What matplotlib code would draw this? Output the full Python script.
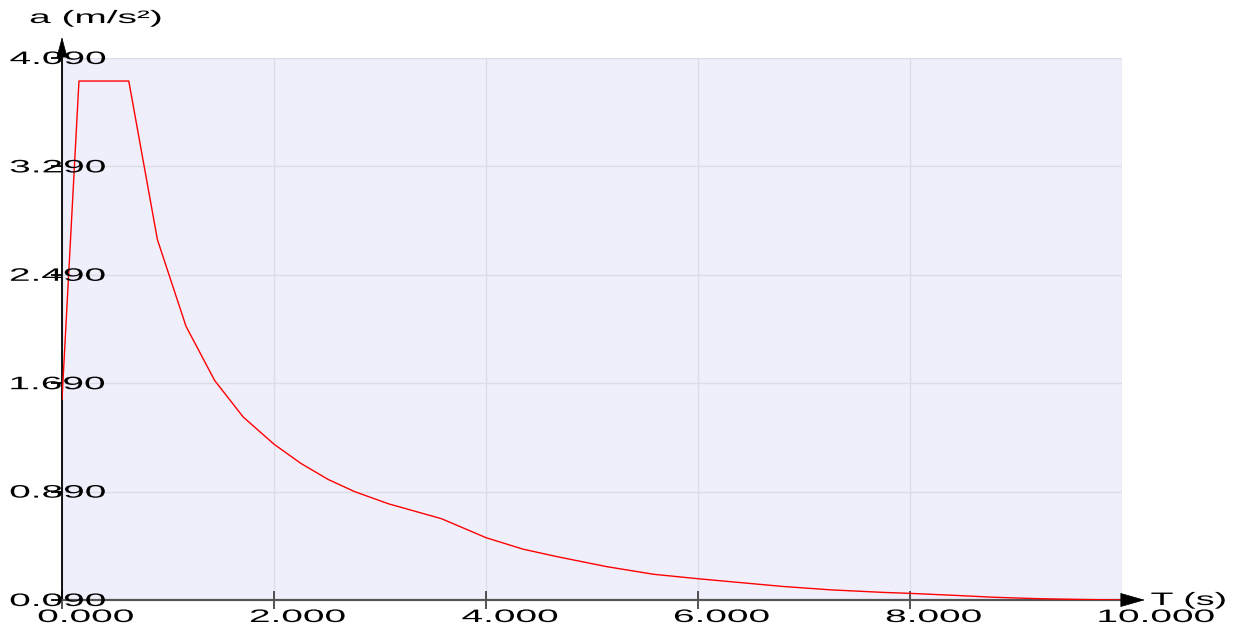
import matplotlib
matplotlib.use("Agg")
import matplotlib.pyplot as plt
from matplotlib.transforms import Affine2D, ScaledTranslation, blended_transform_factory
from matplotlib.patheffects import AbstractPathEffect

# ---- data ----
period_s = [0.0, 0.16, 0.39, 0.63, 0.90, 1.17, 1.44, 1.71, 2.00, 2.25, 2.51, 2.76,
            3.08, 3.58, 4.00, 4.35, 4.67, 5.14, 5.58, 6.00, 6.80, 7.25, 7.75, 8.00,
            8.40, 8.80, 9.20, 9.60, 10.0]
accel = [1.57, 3.92, 3.92, 3.92, 2.75, 2.11, 1.71, 1.44, 1.24, 1.10, 0.98, 0.89,
         0.80, 0.69, 0.55, 0.465, 0.41, 0.336, 0.28, 0.247, 0.19, 0.165, 0.146, 0.139,
         0.125, 0.11, 0.10, 0.094, 0.09]
x_ticks = [0, 2, 4, 6, 8, 10]
x_tick_labels = ["0.000", "2.000", "4.000", "6.000", "8.000", "10.000"]
y_ticks = [0.09, 0.89, 1.69, 2.49, 3.29, 4.09]
y_tick_labels = ["0.090", "0.890", "1.690", "2.490", "3.290", "4.090"]
x_label = "T (s)"
y_label = "a (m/s²)"


class Stretch(AbstractPathEffect):
    """Stretch text horizontally about its left edge (text stays a Text artist)."""
    def __init__(self, sx):
        super().__init__()
        self.sx = sx

    def draw_path(self, renderer, gc, tpath, affine, rgbFace=None):
        x0 = tpath.get_extents(affine).x0
        t = affine + Affine2D().translate(-x0, 0).scale(self.sx, 1).translate(x0, 0)
        renderer.draw_path(gc, tpath, t, rgbFace)


W, H = 1242, 632
fig = plt.figure(figsize=(W / 100, H / 100), dpi=100)
ax = fig.add_axes([62 / W, 32 / H, 1060 / W, 542 / H])
ax.set_facecolor("#efeffb")

ax.plot(period_s, accel, color="#ff0000", lw=1.0, zorder=3)

ax.set_xlim(0, 10)
ax.set_ylim(0.09, 4.09)
ax.set_xticks(x_ticks)
ax.set_yticks(y_ticks)
ax.grid(True, color="#dcdce4", lw=1.0)
ax.set_axisbelow(True)

for s in ("top", "right"):
    ax.spines[s].set_visible(False)
ax.spines["left"].set_color("black")
ax.spines["left"].set_linewidth(1.3)
ax.spines["bottom"].set_color("#555555")
ax.spines["bottom"].set_linewidth(1.6)

ax.tick_params(axis="x", direction="inout", length=12.5, width=1.3, color="#444444",
               labelbottom=False)
ax.tick_params(axis="y", direction="out", length=8, width=1.3, color="black",
               labelleft=False)
ax.xaxis.get_major_ticks()[-1].tick1line.set_visible(False)

px = 1 / 100.0
font = dict(family=["Liberation Sans", "DejaVu Sans"], fontsize=13, color="black")
SX = 2.15

xt = blended_transform_factory(ax.transData, ax.transAxes)
for v, lab in zip(x_ticks, x_tick_labels):
    ax.text(v, 0, lab, transform=xt + ScaledTranslation(-24 * px, -22 * px, fig.dpi_scale_trans),
            ha="left", va="baseline", clip_on=False, path_effects=[Stretch(SX)], **font)

yt = blended_transform_factory(ax.transAxes, ax.transData)
for v, lab in zip(y_ticks, y_tick_labels):
    ax.text(0, v, lab, transform=yt + ScaledTranslation(-52 * px, -6 * px, fig.dpi_scale_trans),
            ha="left", va="baseline", clip_on=False, path_effects=[Stretch(SX)], **font)

ax.text(0, 1, y_label, transform=ax.transAxes + ScaledTranslation(-32 * px, 35 * px, fig.dpi_scale_trans),
        ha="left", va="baseline", clip_on=False, path_effects=[Stretch(SX)], **font)
ax.text(1, 0, x_label, transform=ax.transAxes + ScaledTranslation(29 * px, -5 * px, fig.dpi_scale_trans),
        ha="left", va="baseline", clip_on=False, path_effects=[Stretch(2.08)], **font)

# axis arrow heads
ax.annotate("", xy=(1 + 23 / 1060, 0), xytext=(1, 0), xycoords="axes fraction",
            textcoords="axes fraction",
            arrowprops=dict(arrowstyle="-|>,head_length=16.5,head_width=4.7",
                            mutation_scale=1, shrinkA=0, shrinkB=0, color="black", lw=0.5),
            annotation_clip=False)
ax.annotate("", xy=(0, 1 + 21 / 542), xytext=(0, 1), xycoords="axes fraction",
            textcoords="axes fraction",
            arrowprops=dict(arrowstyle="-|>,head_length=13.5,head_width=3.6",
                            mutation_scale=1, shrinkA=0, shrinkB=0, color="black", lw=0.5),
            annotation_clip=False)

fig.savefig("out.png", dpi=100)
